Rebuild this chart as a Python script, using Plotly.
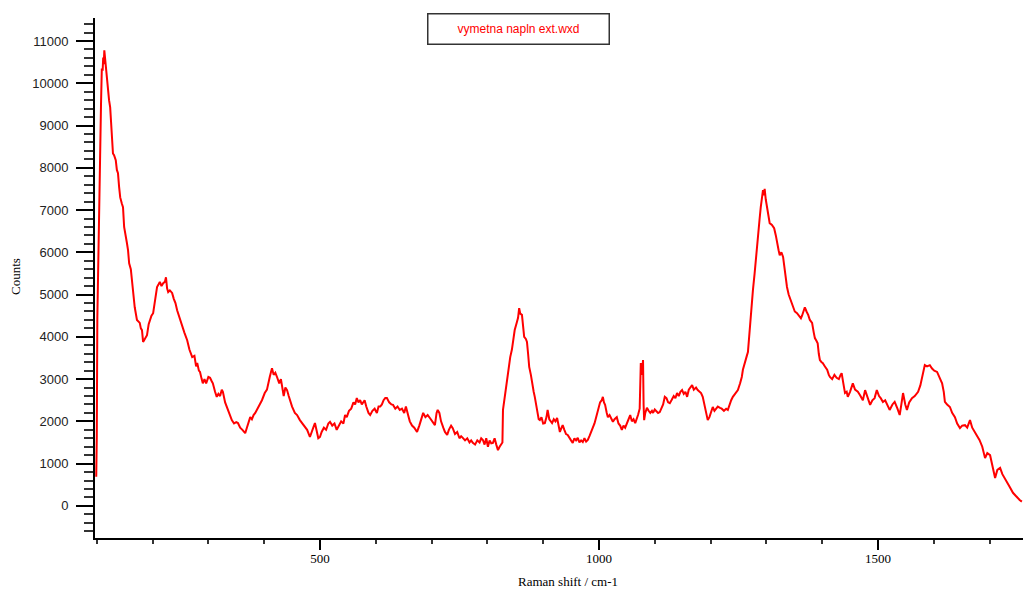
import plotly.graph_objects as go

raman_shift = [
    99, 100, 101, 102.5, 104, 106, 107.6, 109, 110.5, 111.5, 112.5, 113.5, 115, 116.5, 118, 120, 122, 124, 126, 127.5,
    129, 131, 134, 136, 138, 140, 142, 145, 147, 149, 151, 154, 156, 158, 161, 163, 165, 168, 172, 175,
    177, 179, 181, 183, 186, 190, 193, 195, 198, 201, 204, 208, 211, 213, 216, 219, 222, 224, 226, 228,
    231, 235, 238, 241, 244, 248, 253, 257, 262, 266, 271, 275, 278, 280, 283, 285, 288, 290, 293, 296,
    300, 303, 306, 308, 312, 315, 318, 321, 324, 326, 330, 333, 337, 342, 346, 350, 353, 357, 361, 364,
    366, 369, 372, 375, 378, 381, 384, 388, 392, 396, 401, 405, 410, 412, 414, 417, 420, 423, 427, 430,
    432, 435, 438, 441, 444, 446, 450, 455, 459, 464, 468, 473, 477, 482, 486, 488, 491, 494, 497, 500,
    503, 507, 511, 515, 518, 522, 526, 530, 534, 538, 542, 545, 548, 552, 556, 560, 563, 566, 569, 572,
    575, 577, 580, 583, 587, 590, 594, 598, 602, 605, 608, 611, 614, 617, 620, 624, 628, 631, 635, 639,
    643, 647, 651, 654, 656, 659, 661, 665, 669, 672, 674, 678, 682, 685, 689, 693, 697, 701, 704, 706,
    709, 711, 714, 717, 721, 724, 728, 731, 735, 738, 742, 746, 750, 753, 756, 760, 764, 768, 771, 774,
    778, 782, 786, 789, 792, 795, 798, 801, 804, 807, 810, 813, 816, 819, 822, 825, 827, 828, 831, 834,
    837, 841, 844, 846, 849, 853, 855, 857, 859, 862, 864, 866, 869, 871, 873, 875, 878, 880, 883, 885,
    887, 889, 892, 894, 897, 900, 903, 906, 908, 911, 914, 916, 919, 922, 925, 928, 930, 933, 935, 938,
    941, 944, 947, 950, 953, 956, 959, 962, 965, 968, 971, 974, 977, 980, 983, 986, 989, 992, 995, 998,
    1002, 1005, 1007, 1009, 1011, 1014, 1016, 1019, 1022, 1025, 1028, 1032, 1035, 1038, 1041, 1044, 1047, 1050, 1053, 1056,
    1059, 1062, 1065, 1068, 1070, 1073, 1075, 1077, 1079, 1080, 1081, 1083, 1086, 1089, 1092, 1095, 1097, 1100, 1103, 1106,
    1109, 1112, 1115, 1118, 1121, 1124, 1127, 1130, 1134, 1137, 1140, 1143, 1146, 1149, 1152, 1155, 1158, 1161, 1164, 1167,
    1170, 1174, 1177, 1180, 1183, 1186, 1189, 1192, 1195, 1198, 1201, 1204, 1207, 1210, 1213, 1217, 1220, 1224, 1228, 1231,
    1234, 1237, 1240, 1244, 1249, 1253, 1256, 1258, 1262, 1265, 1267, 1269, 1271, 1274, 1276, 1279, 1281, 1283, 1285, 1288,
    1290, 1292, 1294, 1295.5, 1297, 1299, 1301, 1304, 1306, 1310, 1314, 1317, 1319, 1322, 1324, 1327, 1330, 1333, 1335, 1337,
    1340, 1342, 1345, 1348, 1351, 1355, 1359, 1362, 1364, 1367, 1369, 1372, 1375, 1378, 1382, 1385, 1387, 1390, 1392, 1394,
    1396, 1399, 1401, 1405, 1409, 1412, 1414, 1418, 1422, 1426, 1430, 1433, 1435, 1438, 1441, 1444, 1446, 1450, 1455, 1459,
    1464, 1468, 1473, 1477, 1481, 1486, 1490, 1494, 1498, 1502, 1505, 1509, 1513, 1517, 1521, 1526, 1530, 1535, 1539, 1542,
    1545, 1549, 1552, 1556, 1561, 1566, 1572, 1576, 1579, 1582, 1584, 1588, 1593, 1597, 1601, 1606, 1610, 1615, 1618, 1620,
    1624, 1629, 1633, 1638, 1642, 1647, 1651, 1656, 1660, 1665, 1669, 1674, 1678, 1682, 1687, 1692, 1696, 1701, 1705, 1710,
    1714, 1719, 1723, 1727, 1731, 1736, 1742, 1746, 1750, 1754, 1758,
]

counts = [
    690, 1650, 4450, 5900, 7050, 9000, 9530, 10350, 10300, 10610, 10450, 10780, 10550, 10500, 10070, 9900, 9600, 9430, 8900, 8720,
    8340, 8300, 8180, 7950, 7870, 7550, 7300, 7150, 7070, 6600, 6400, 6220, 6050, 5740, 5600, 5340, 4940, 4700, 4400, 4350,
    4330, 4200, 4160, 3880, 3950, 4040, 4300, 4400, 4500, 4560, 4800, 5180, 5250, 5300, 5200, 5270, 5300, 5410, 5150, 5060,
    5100, 5040, 4900, 4800, 4630, 4450, 4230, 4100, 3920, 3700, 3520, 3550, 3300, 3380, 3200, 3170, 3000, 2900, 3000, 2900,
    3050, 3030, 2950, 2900, 2700, 2580, 2650, 2600, 2750, 2700, 2450, 2340, 2200, 2030, 1950, 1980, 1960, 1850, 1800, 1760,
    1720, 1850, 2000, 2100, 2050, 2150, 2200, 2300, 2430, 2500, 2670, 2750, 3050, 3200, 3260, 3100, 3150, 3050, 2900, 3000,
    2810, 2600, 2800, 2740, 2600, 2500, 2350, 2200, 2150, 2030, 1950, 1870, 1800, 1630, 1750, 1850, 1960, 1800, 1600, 1630,
    1750, 1850, 1800, 1950, 1990, 1900, 1950, 1800, 1900, 2000, 1950, 2150, 2100, 2250, 2300, 2450, 2400, 2550, 2450, 2500,
    2400, 2430, 2500, 2350, 2200, 2150, 2250, 2300, 2200, 2350, 2350, 2400, 2500, 2550, 2550, 2450, 2400, 2390, 2300, 2350,
    2270, 2300, 2200, 2350, 2220, 2100, 2000, 1900, 1850, 1800, 1750, 1900, 2100, 2200, 2100, 2150, 2080, 2000, 1950, 1910,
    2200, 2270, 2200, 2000, 1850, 1750, 1680, 1800, 1900, 1840, 1700, 1750, 1600, 1650, 1610, 1550, 1600, 1500, 1550, 1490,
    1450, 1550, 1500, 1600, 1560, 1450, 1600, 1400, 1550, 1480, 1490, 1600, 1450, 1320, 1400, 1450, 1500, 2270, 2580, 2900,
    3140, 3520, 3700, 3920, 4160, 4350, 4450, 4680, 4550, 4520, 4300, 4000, 3950, 3880, 3600, 3290, 3100, 2900, 2700, 2580,
    2400, 2200, 2050, 2030, 2100, 1950, 1960, 2100, 2270, 2050, 2000, 1960, 2050, 2000, 2080, 1900, 1750, 1850, 1910, 1800,
    1700, 1680, 1600, 1550, 1490, 1600, 1550, 1610, 1500, 1550, 1510, 1600, 1520, 1560, 1650, 1750, 1870, 1950, 2100, 2270,
    2450, 2500, 2580, 2450, 2390, 2200, 2100, 2150, 2050, 1990, 2050, 2100, 1950, 1900, 1800, 1900, 1850, 1960, 2050, 2150,
    2000, 2050, 1960, 2050, 2150, 2300, 3380, 3100, 3450, 2400, 2030, 2200, 2320, 2250, 2200, 2250, 2200, 2280, 2250, 2200,
    2220, 2300, 2400, 2580, 2550, 2450, 2430, 2500, 2600, 2550, 2670, 2600, 2700, 2740, 2650, 2700, 2580, 2750, 2810, 2860,
    2750, 2800, 2740, 2700, 2670, 2580, 2400, 2270, 2030, 2100, 2200, 2340, 2250, 2300, 2350, 2320, 2300, 2250, 2300, 2270,
    2400, 2500, 2580, 2650, 2740, 2900, 3050, 3220, 3450, 3550, 3640, 4000, 4330, 4700, 5110, 5500, 5820, 6200, 6530, 6800,
    7070, 7300, 7470, 7350, 7500, 7250, 7070, 6900, 6690, 6650, 6570, 6400, 6220, 6050, 5930, 6000, 5890, 5580, 5400, 5180,
    5000, 4920, 4800, 4700, 4600, 4560, 4500, 4440, 4500, 4650, 4700, 4600, 4520, 4400, 4330, 4100, 3970, 3900, 3850, 3600,
    3450, 3400, 3380, 3300, 3220, 3100, 3050, 3000, 3100, 3030, 3000, 3100, 3140, 2900, 2670, 2700, 2580, 2700, 2900, 2750,
    2700, 2620, 2500, 2740, 2600, 2390, 2500, 2550, 2740, 2600, 2550, 2460, 2500, 2400, 2270, 2400, 2460, 2300, 2150, 2400,
    2670, 2400, 2270, 2450, 2550, 2600, 2700, 2850, 3050, 3200, 3330, 3300, 3330, 3250, 3200, 3170, 3050, 2900, 2700, 2460,
    2400, 2340, 2200, 2100, 1950, 1840, 1900, 1910, 1850, 2030, 1850, 1720, 1650, 1560, 1400, 1130, 1250, 1200, 950, 660,
    850, 900, 750, 650, 540, 450, 310, 250, 200, 140, 100,
]

legend_label = "vymetna napln ext.wxd"
x_title = "Raman shift / cm-1"
y_title = "Counts"
x_tickvals = [500, 1000, 1500]
y_tickvals = [0, 1000, 2000, 3000, 4000, 5000, 6000, 7000, 8000, 9000, 10000, 11000]

fig = go.Figure()
fig.add_trace(go.Scatter(
    x=raman_shift, y=counts, mode="lines",
    line=dict(color="#ff0000", width=2),
    name=legend_label, showlegend=False,
))

fig.update_layout(
    width=1033, height=590,
    margin=dict(l=95, r=10, t=18, b=52, autoexpand=False),
    paper_bgcolor="white", plot_bgcolor="white",
    xaxis=dict(
        range=[96.8, 1760], showgrid=False, zeroline=False,
        showline=True, linecolor="black", linewidth=2,
        ticks="outside", ticklen=10, tickwidth=2, tickcolor="black",
        tickvals=x_tickvals, ticktext=[str(v) for v in x_tickvals],
        tickfont=dict(family="Liberation Serif", size=13, color="black"),
        ticklabelstandoff=-3, automargin=False,
        minor=dict(ticks="outside", dtick=100, tick0=0, ticklen=4, tickwidth=1.5, tickcolor="#333"),
    ),
    yaxis=dict(
        range=[-760, 11545], showgrid=False, zeroline=False,
        showline=True, linecolor="black", linewidth=2,
        ticks="outside", ticklen=17, tickwidth=2, tickcolor="black",
        tickvals=y_tickvals, ticktext=[str(v) for v in y_tickvals],
        tickfont=dict(family="Liberation Sans", size=13, color="#222"),
        ticklabelstandoff=5, automargin=False,
        minor=dict(ticks="outside", dtick=200, tick0=0, ticklen=9, tickwidth=1.5, tickcolor="#333"),
    ),
    annotations=[
        dict(text=legend_label, xref="paper", yref="paper", x=0.456, y=0.978,
             xanchor="center", yanchor="middle", showarrow=False,
             font=dict(family="Liberation Sans", size=12, color="#ff0000"),
             bordercolor="#333", borderwidth=1.5, borderpad=4,
             width=172, height=21, bgcolor="white"),
        dict(text=x_title, xref="paper", yref="paper", x=0.5097, y=-0.083,
             xanchor="center", yanchor="middle", showarrow=False,
             font=dict(family="Liberation Serif", size=13, color="black")),
        dict(text=y_title, xref="paper", yref="paper", x=-0.0851, y=0.502,
             xanchor="center", yanchor="middle", showarrow=False, textangle=-90,
             font=dict(family="Liberation Serif", size=13, color="black")),
    ],
)

fig.write_html(
    "out.html",
    config={"displayModeBar": False},
    post_script="document.body.style.margin='0';document.body.style.overflow='hidden';",
)
